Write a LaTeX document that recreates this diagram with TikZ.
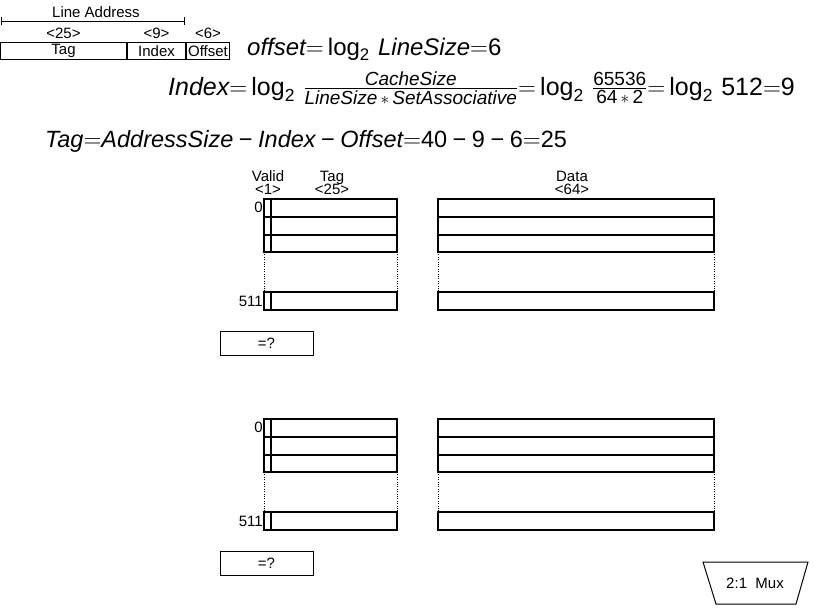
\documentclass[tikz,border=0pt]{standalone}
\usepackage{amsmath}
\usepackage{fontspec}
\setmainfont{Liberation Sans}
\usetikzlibrary{positioning}
\newcommand{\fracpt}[1]{\text{\fontsize{19}{21}\selectfont #1}}
\newcommand{\logtwo}{\log_{\text{2}}}
\newcommand{\mns}{\mathbin{\text{−}}}

\begin{document}
\begin{tikzpicture}[x=1pt,y=1pt]
\tikzstyle{every node}+=[inner sep=0pt]
\tikzstyle{lbl}=[font=\fontsize{15}{16}\selectfont]
\tikzstyle{eqn}=[font=\fontsize{25}{28}\selectfont, anchor=base west]
\tikzstyle{field}=[draw=black, line width=1pt, minimum height=17pt, font=\fontsize{15}{16}\selectfont]
\tikzstyle{cmpbox}=[draw=black, line width=1pt, minimum width=93pt, minimum height=24pt, font=\fontsize{15}{16}\selectfont]
\tikzstyle{cell}=[draw=black, line width=1.2pt]
\useasboundingbox (0,0) rectangle (817,-614);
% address breakdown
\node [lbl] (lineaddr) at (96,-12) {Line Address};
\coordinate (addrL) at (1,-21);
\coordinate (addrR) at (184,-21);
\draw [black] (addrL) -- (addrR);
\draw [black] (1,-17) -- (1,-25);
\draw [black] (184,-17) -- (184,-25);
\node [field, minimum width=126pt, anchor=north west] (tagfield) at (0,-42) {Tag};
\node [field, minimum width=58pt, right=0pt of tagfield] (indexfield) {Index};
\node [field, minimum width=43pt, right=0pt of indexfield] (offsetfield) {Offset};
\node [lbl, above=3pt of tagfield] (tagbits) {<25>};
\node [lbl, above=3pt of indexfield] (indexbits) {<9>};
\node [lbl, above=3pt of offsetfield] (offsetbits) {<6>};
% equations
\node [eqn, font=\fontsize{24}{27}\selectfont] (eqoffset) at (247,-55) {$\textit{offset}{=}\logtwo\,\textit{LineSize}{=}\text{6}$};
\node [eqn] (eqindex) at (168,-95) {$\textit{Index}{=}\logtwo\,\frac{\fracpt{\textit{CacheSize}}}{\fracpt{\textit{LineSize}\,$\ast$\,\textit{SetAssociative}}}{=}\logtwo\,\frac{\fracpt{65536}}{\fracpt{64\,$\ast$\,2}}{=}\logtwo\,\text{512}{=}\text{9}$};
\node [eqn, font=\fontsize{23.5}{27}\selectfont] (eqtag) at (45,-147) {$\textit{Tag}{=}\textit{AddressSize}\mns\textit{Index}\mns\textit{Offset}{=}\text{40}\mns\text{9}\mns\text{6}{=}\text{25}$};
% way 0
\node [lbl, anchor=base] (validhead) at (268,-181) {Valid};
\node [lbl, anchor=base] (validbits) at (268,-194) {<1>};
\node [lbl, anchor=base] (taghead) at (332,-181) {Tag};
\node [lbl, anchor=base] (tagwidth) at (332,-194) {<25>};
\node [lbl, anchor=base] (datahead) at (572,-181) {Data};
\node [lbl, anchor=base] (databits) at (572,-194) {<64>};
\draw [cell] (264,-199) rectangle (397,-252);
\draw [cell] (264,-217) -- (397,-217);
\draw [cell] (264,-235) -- (397,-235);
\draw [cell] (271,-199) -- (271,-252);
\draw [black, dotted] (264,-252) -- (264,-292);
\draw [black, dotted] (397,-252) -- (397,-292);
\draw [cell] (264,-292) rectangle (397,-310);
\draw [cell] (271,-292) -- (271,-310);
\draw [cell] (438,-199) rectangle (714,-252);
\draw [cell] (438,-217) -- (714,-217);
\draw [cell] (438,-235) -- (714,-235);
\draw [black, dotted] (438,-252) -- (438,-292);
\draw [black, dotted] (714,-252) -- (714,-292);
\draw [cell] (438,-292) rectangle (714,-310);
\node [lbl, anchor=east] (firstA) at (263,-207) {0};
\node [lbl, anchor=east] (lastA) at (263,-301) {511};
\node [cmpbox] (cmpA) at (266.5,-343) {=?};
% way 1
\draw [cell] (264,-419) rectangle (397,-472);
\draw [cell] (264,-437) -- (397,-437);
\draw [cell] (264,-455) -- (397,-455);
\draw [cell] (271,-419) -- (271,-472);
\draw [black, dotted] (264,-472) -- (264,-512);
\draw [black, dotted] (397,-472) -- (397,-512);
\draw [cell] (264,-512) rectangle (397,-530);
\draw [cell] (271,-512) -- (271,-530);
\draw [cell] (438,-419) rectangle (714,-472);
\draw [cell] (438,-437) -- (714,-437);
\draw [cell] (438,-455) -- (714,-455);
\draw [black, dotted] (438,-472) -- (438,-512);
\draw [black, dotted] (714,-472) -- (714,-512);
\draw [cell] (438,-512) rectangle (714,-530);
\node [lbl, anchor=east] (firstB) at (263,-427) {0};
\node [lbl, anchor=east] (lastB) at (263,-521) {511};
\node [cmpbox] (cmpB) at (266.5,-563.5) {=?};
% mux
\draw [black, line width=1pt] (703,-562) -- (808,-562) -- (796,-604) -- (716,-604) -- cycle;
\node [lbl] (mux) at (755,-583) {2:1~~Mux};
\end{tikzpicture}
\end{document}
